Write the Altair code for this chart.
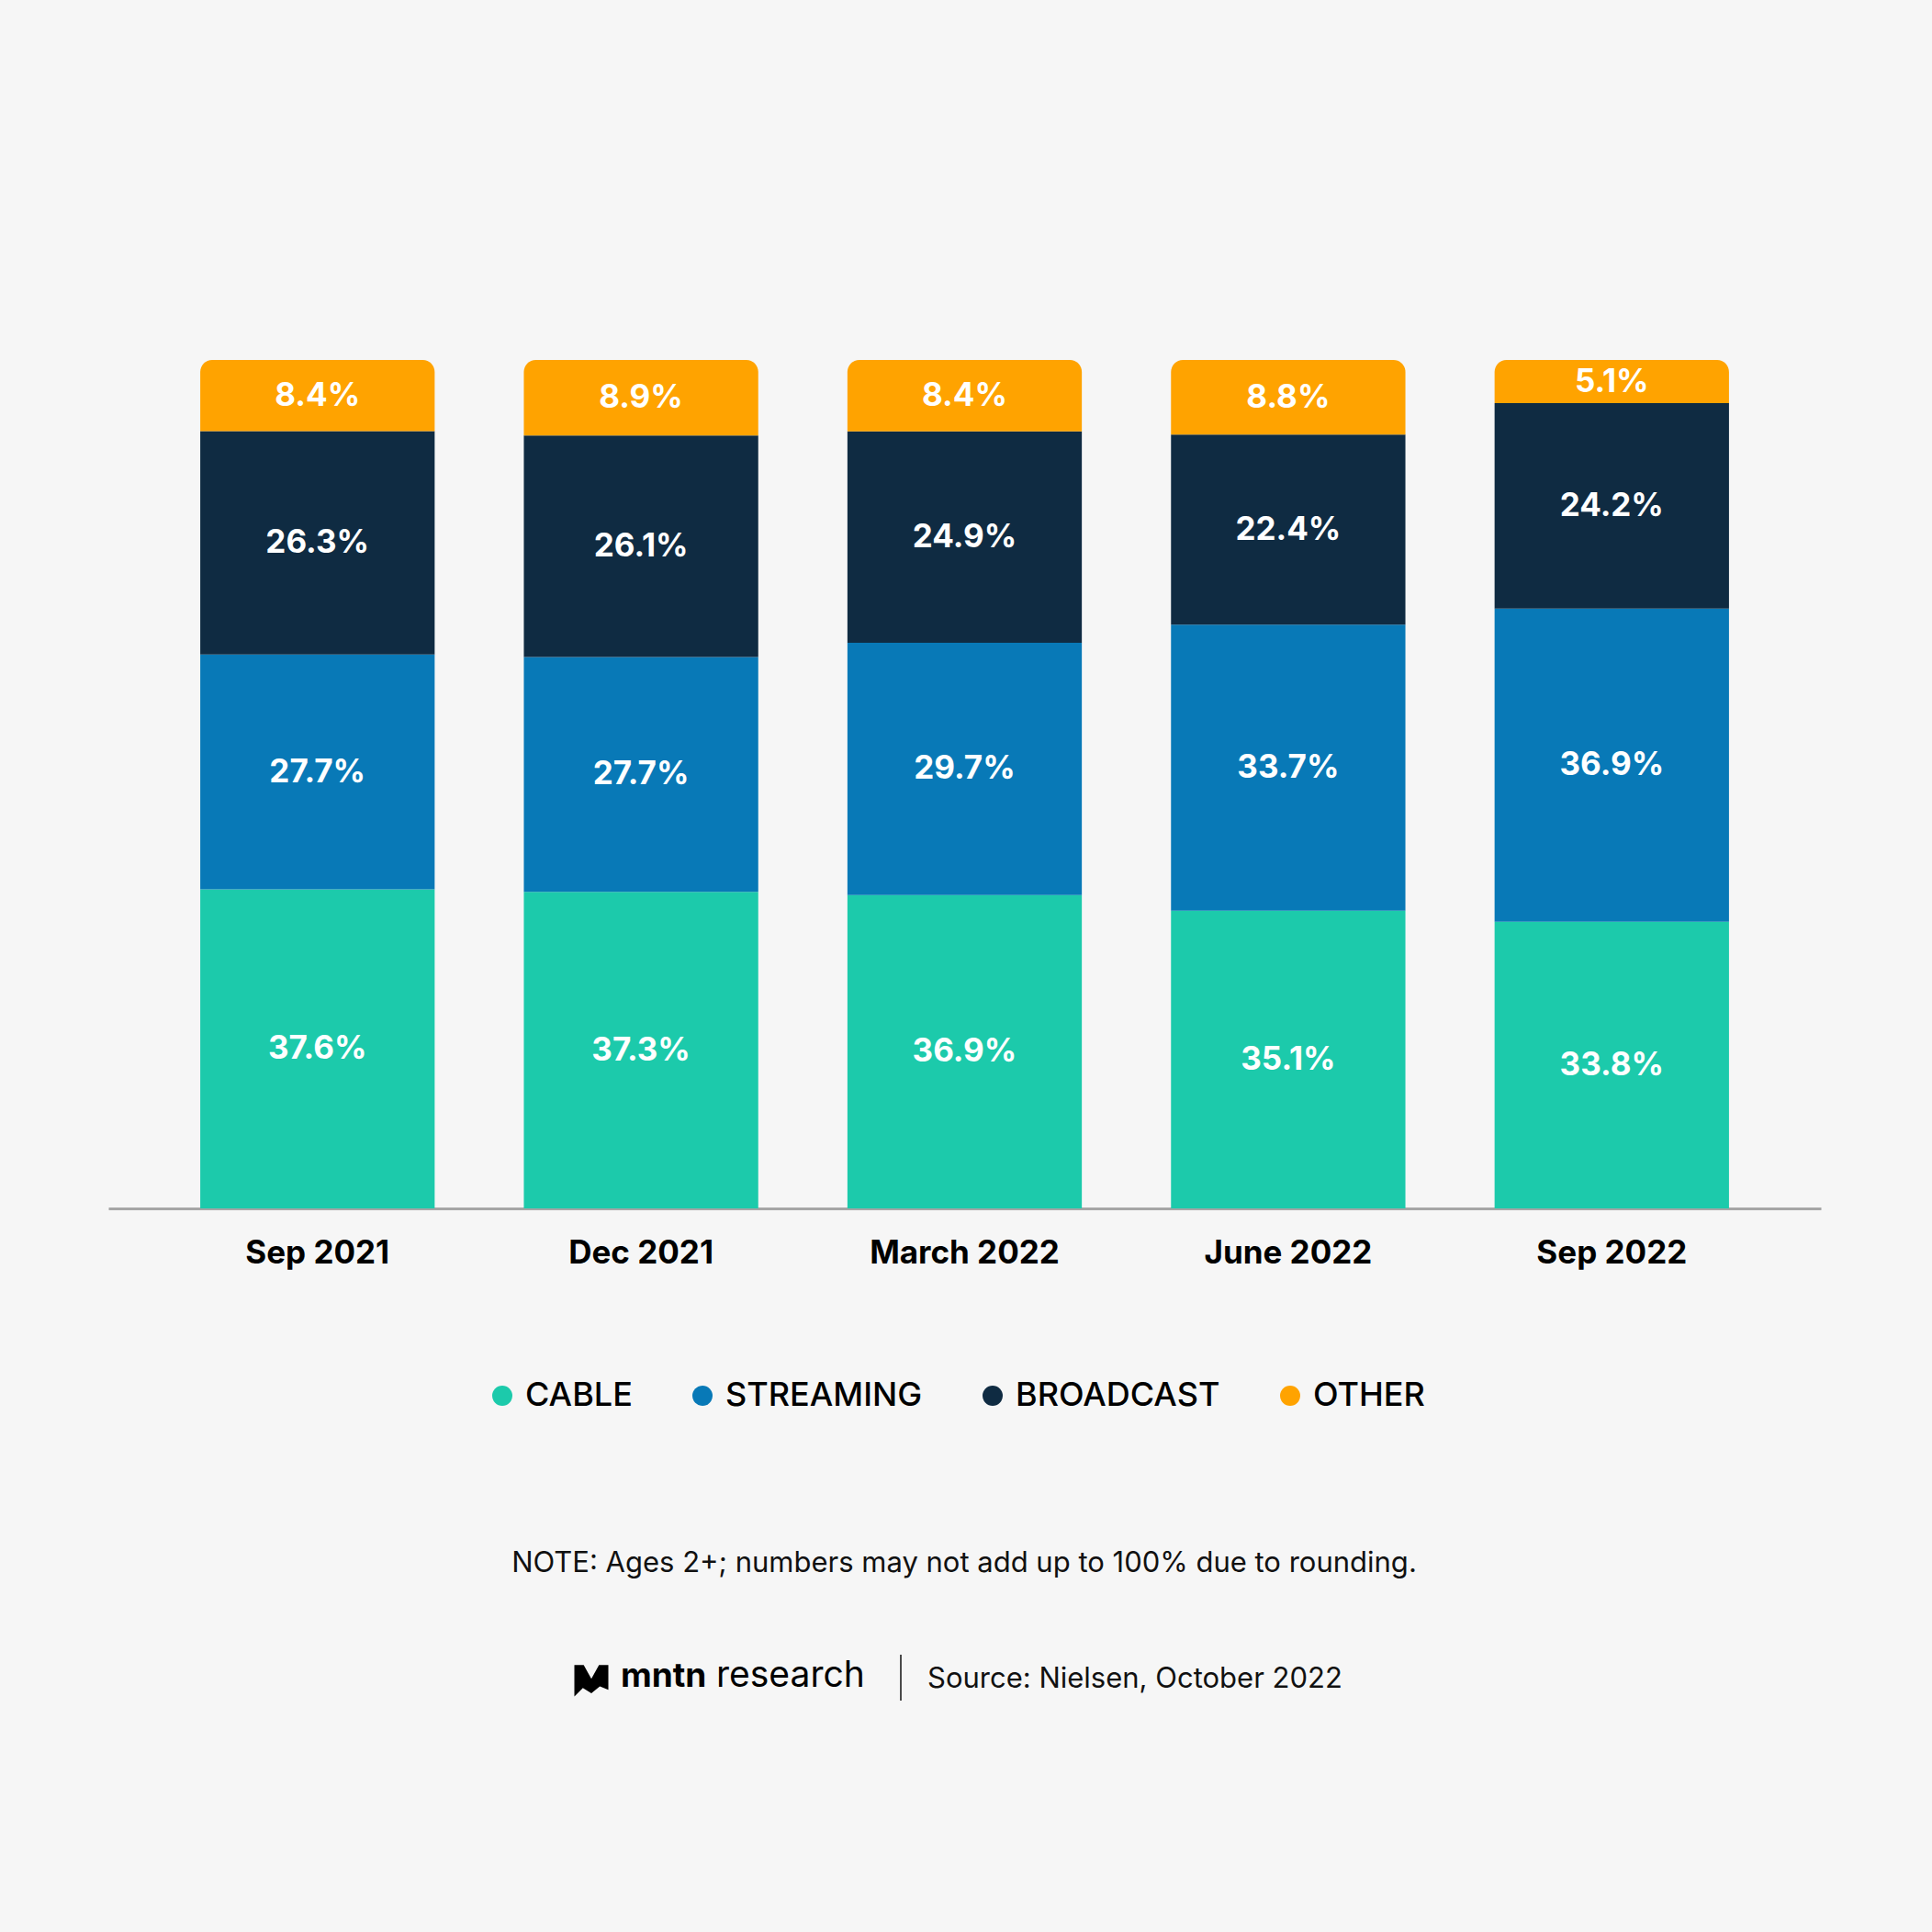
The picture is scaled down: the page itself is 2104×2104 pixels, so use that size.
import altair as alt
import pandas as pd

dates = ["Sep 2021", "Dec 2021", "March 2022", "June 2022", "Sep 2022"]
categories = ["CABLE", "STREAMING", "BROADCAST", "OTHER"]
colors = ["#1ccaab", "#0879b7", "#0f2b42", "#ffa300"]
cable = [37.6, 37.3, 36.9, 35.1, 33.8]
streaming = [27.7, 27.7, 29.7, 33.7, 36.9]
broadcast = [26.3, 26.1, 24.9, 22.4, 24.2]
other = [8.4, 8.9, 8.4, 8.8, 5.1]

note_text = "NOTE: Ages 2+; numbers may not add up to 100% due to rounding."
source_text = "Source: Nielsen, October 2022"

rows = []
for ci, (cat, vals) in enumerate(zip(categories, [cable, streaming, broadcast, other])):
    for d, v in zip(dates, vals):
        rows.append({"date": d, "category": cat, "order": ci, "value": v})
df = pd.DataFrame(rows)

FONT = "Inter"
BG = "#f6f6f6"

color_enc = alt.Color(
    "category:N",
    scale=alt.Scale(domain=categories, range=colors),
    sort=categories,
    legend=alt.Legend(
        title=None,
        orient="none",
        legendX=411,
        legendY=1110,
        direction="horizontal",
        symbolType="circle",
        symbolSize=484,
        symbolStrokeWidth=0,
        symbolOpacity=1,
        labelFont=FONT,
        labelFontSize=36,
        labelFontWeight=500,
        labelColor="#000000",
        labelOffset=7,
        columnPadding=58,
        labelLimit=400,
    ),
)

x_enc = alt.X(
    "date:N",
    sort=dates,
    scale=alt.Scale(paddingInner=0.2756, paddingOuter=0.284),
    axis=alt.Axis(
        title=None,
        labelAngle=0,
        labelFont=FONT,
        labelFontSize=35,
        labelFontWeight="bold",
        labelColor="#000000",
        labelPadding=31,
        labelLimit=500,
        ticks=False,
        grid=False,
        domainColor="#a6a6a6",
        domainWidth=3,
    ),
)
y_enc = alt.Y("y0:Q", scale=alt.Scale(domain=[0, 1]), axis=None)

base = alt.Chart(df).transform_stack(
    stack="value",
    as_=["y0", "y1"],
    groupby=["date"],
    sort=[alt.SortField("order", order="ascending")],
    offset="normalize",
).transform_calculate(
    mid="(datum.y0 + datum.y1) / 2",
    label="format(datum.value, '.1f') + '%'",
)

bars = base.transform_filter("datum.category != 'OTHER'").mark_bar(stroke=None).encode(
    x=x_enc, y=y_enc, y2="y1:Q", color=color_enc
)
bars_top = base.transform_filter("datum.category == 'OTHER'").mark_bar(
    cornerRadiusTopLeft=13, cornerRadiusTopRight=13, stroke=None
).encode(x=x_enc, y=y_enc, y2="y1:Q", color=color_enc)

labels = base.mark_text(
    font=FONT, fontSize=35, fontWeight="bold", color="#ffffff", baseline="middle", align="center"
).encode(
    x=alt.X("date:N", sort=dates),
    y=alt.Y("mid:Q"),
    text="label:N",
)

one = alt.Data(values=[{"k": 1}])

note = alt.Chart(one).mark_text(
    font=FONT, fontSize=31, color="#111111", align="center", baseline="alphabetic"
).encode(x=alt.value(932), y=alt.value(1320), text=alt.value(note_text))

logo_path = "M -1 -0.9 L -0.45 -0.9 L 0 -0.1 L 0.45 -0.9 L 1 -0.9 L 1 0.55 L 0.5 0.35 L 0 0.75 L -0.5 0.45 L -1 0.95 Z"
logo = alt.Chart(one).mark_point(
    shape=logo_path, filled=True, color="#000000", size=1369, opacity=1, strokeWidth=0
).encode(x=alt.value(526), y=alt.value(1438))

mntn = alt.Chart(one).mark_text(
    font=FONT, fontSize=37, fontWeight="bold", color="#000000", align="left", baseline="alphabetic"
).encode(x=alt.value(558), y=alt.value(1445), text=alt.value("mntn"))

research = alt.Chart(one).mark_text(
    font=FONT, fontSize=39, fontWeight="normal", color="#000000", align="left", baseline="alphabetic"
).encode(x=alt.value(662), y=alt.value(1445), text=alt.value("research"))

sep = alt.Chart(one).mark_rule(color="#111111", strokeWidth=1.5).encode(
    x=alt.value(863), y=alt.value(1410), y2=alt.value(1460)
)

source = alt.Chart(one).mark_text(
    font=FONT, fontSize=31, color="#111111", align="left", baseline="alphabetic"
).encode(x=alt.value(892), y=alt.value(1446), text=alt.value(source_text))

chart = alt.layer(bars, bars_top, labels, note, logo, mntn, research, sep, source).properties(
    width=1865,
    height=924,
    padding={"left": 118, "top": 392, "right": 121, "bottom": 788},
    autosize=alt.AutoSizeParams(type="none"),
    background=BG,
).configure_view(stroke=None).configure_axis(labelFont=FONT)

chart.save("out.html", embed_options={"renderer": "svg", "actions": False})
